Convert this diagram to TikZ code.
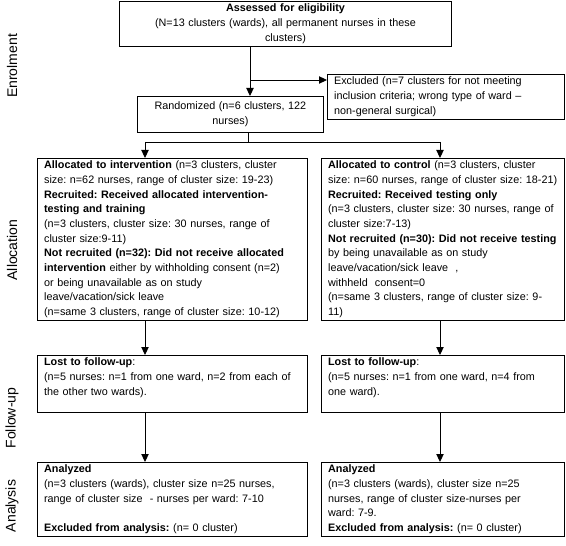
\documentclass[tikz,border=0pt]{standalone}
\usepackage{fontspec}
\setmainfont{Liberation Sans}
\usetikzlibrary{arrows.meta}
\frenchspacing
\newlength{\armwidth}
\setlength{\armwidth}{192.5pt}
\newlength{\ctrlwidth}
\setlength{\ctrlwidth}{172.25pt}

\begin{document}
\begin{tikzpicture}[x=0.75pt, y=-0.75pt,
    box/.style={draw, line width=0.7pt, anchor=north west, align=left, inner xsep=5pt, inner ysep=2pt, font=\fontsize{8.1}{11}\selectfont},
    stage/.style={rotate=90, font=\fontsize{10.5}{12}\selectfont},
    arr/.style={line width=0.7pt, -{Triangle[length=6pt, width=5.5pt]}}]
    \useasboundingbox (0,0) rectangle (566,545);

    \node[stage] (enrol) at (12,66) {Enrolment};
    \node[stage] (alloc) at (12,250) {Allocation};
    \node[stage] (follow) at (12,418) {Follow-up};
    \node[stage] (analysis) at (12,506) {Analysis};

    \node[box, align=center, text width=239pt] (assess) at (119,1) {\textbf{Assessed for eligibility}\\
        (N=13 clusters (wards), all permanent nurses in these\\
        clusters)};

    \node[box, text width=167.75pt] (excl) at (327,74) {Excluded (n=7 clusters for not meeting\\
        inclusion criteria; wrong type of ward --\\
        non-general surgical)};

    \node[box, align=center, text width=129.5pt, minimum height=27pt] (rand) at (137,96) {Randomized (n=6 clusters, 122\\
        nurses)};

    \node[box, text width=\armwidth] (allocI) at (37,158) {\textbf{Allocated to intervention} (n=3 clusters, cluster\\
        size: n=62 nurses, range of cluster size: 19-23)\\
        \textbf{Recruited: Received allocated intervention-}\\
        \textbf{testing and training}\\
        (n=3 clusters, cluster size: 30 nurses, range of\\
        cluster size:9-11)\\
        \textbf{Not recruited (n=32): Did not receive allocated}\\
        \textbf{intervention} either by withholding consent (n=2)\\
        or being unavailable as on study\\
        leave/vacation/sick leave\\
        (n=same 3 clusters, range of cluster size: 10-12)};

    \node[box, text width=\ctrlwidth] (allocC) at (321,158) {\textbf{Allocated to control} (n=3 clusters, cluster\\
        size: n=60 nurses, range of cluster size: 18-21)\\
        \textbf{Recruited: Received testing only}\\
        (n=3 clusters, cluster size: 30 nurses, range of\\
        cluster size:7-13)\\
        \textbf{Not recruited (n=30): Did not receive testing}\\
        by being unavailable as on study\\
        leave/vacation/sick leave~~,\\
        withheld~~consent=0\\
        (n=same 3 clusters, range of cluster size: 9-\\
        11)};

    \node[box, text width=\armwidth] (lostI) at (37,355) {\textbf{Lost to follow-up}:\\
        (n=5 nurses: n=1 from one ward, n=2 from each of\\
        the other two wards).\\
        ~};

    \node[box, text width=\ctrlwidth] (lostC) at (321,355) {\textbf{Lost to follow-up}:\\
        (n=5 nurses: n=1 from one ward, n=4 from\\
        one ward).\\
        ~};

    \node[box, text width=\armwidth] (anaI) at (37,462) {\textbf{Analyzed}\\
        (n=3 clusters (wards), cluster size n=25 nurses,\\
        range of cluster size~~- nurses per ward: 7-10\\
        ~\\
        \textbf{Excluded from analysis:} (n= 0 cluster)};

    \node[box, text width=\ctrlwidth] (anaC) at (321,462) {\textbf{Analyzed}\\
        (n=3 clusters (wards), cluster size n=25\\
        nurses, range of cluster size-nurses per\\
        ward: 7-9.\\
        \textbf{Excluded from analysis:} (n= 0 cluster)};

    \coordinate (split) at (250,80);
    \coordinate (fork) at (248,142);
    \coordinate (forkI) at (145,142);
    \coordinate (forkC) at (440,142);

    \draw[line width=0.7pt] (assess.south -| split) -- (split);
    \draw[arr] (split) -- (split |- rand.north);
    \draw[arr] (split) -- (excl.west |- split);
    \draw[line width=0.7pt] (rand.south -| fork) -- (fork);
    \draw[line width=0.7pt] (forkI) -- (forkC);
    \draw[arr] (forkI) -- (forkI |- allocI.north);
    \draw[arr] (forkC) -- (forkC |- allocC.north);
    \draw[arr] (forkI |- allocI.south) -- (forkI |- lostI.north);
    \draw[arr] (forkC |- allocC.south) -- (forkC |- lostC.north);
    \draw[arr] (forkI |- lostI.south) -- (forkI |- anaI.north);
    \draw[arr] (forkC |- lostC.south) -- (forkC |- anaC.north);
\end{tikzpicture}
\end{document}
